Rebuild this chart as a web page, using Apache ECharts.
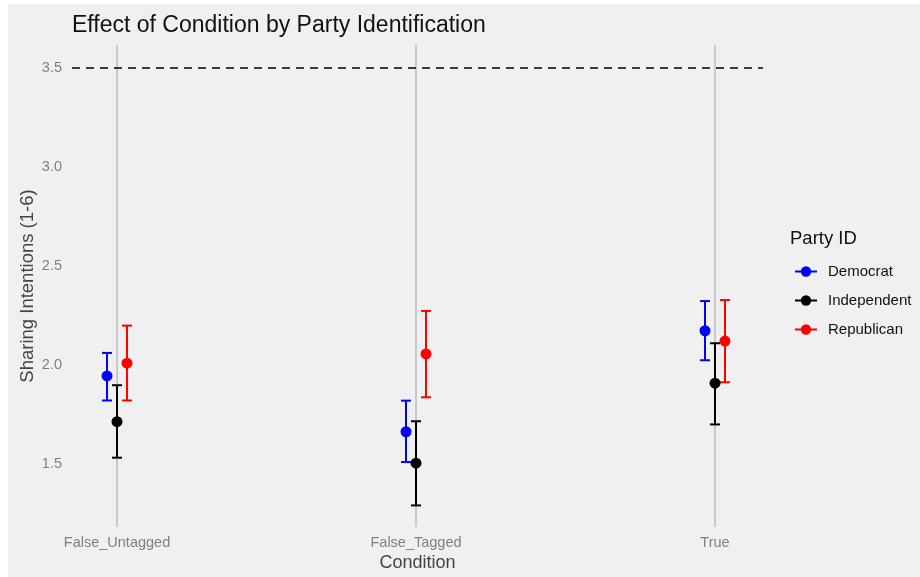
<!DOCTYPE html>
<html>
<head>
<meta charset="utf-8">
<script src="https://cdn.jsdelivr.net/npm/echarts@6/dist/echarts.min.js"></script>
<style>
html,body{margin:0;padding:0;background:#fff;}
#wrap{position:absolute;left:8px;top:4px;width:912px;height:573px;background:#f0f0f0;}
#chart{position:absolute;left:-8px;top:-4px;width:920px;height:577px;}
</style>
</head>
<body>
<div id="wrap"><div id="chart"></div></div>
<script>
var categories = ['False_Untagged', 'False_Tagged', 'True'];
var parties = ['Democrat', 'Independent', 'Republican'];
var partyColors = ['#0000ff', '#000000', '#ff0000'];
var demMean = [1.945, 1.663, 2.173];
var demLow  = [1.821, 1.510, 2.024];
var demHigh = [2.061, 1.820, 2.323];
var indMean = [1.714, 1.504, 1.908];
var indLow  = [1.532, 1.291, 1.700];
var indHigh = [1.898, 1.716, 2.110];
var repMean = [2.009, 2.056, 2.121];
var repLow  = [1.821, 1.837, 1.913];
var repHigh = [2.199, 2.273, 2.328];
var refLine = 3.5;
var yTicks = [1.5, 2.0, 2.5, 3.0, 3.5];

var means = [demMean, indMean, repMean];
var lows = [demLow, indLow, repLow];
var highs = [demHigh, indHigh, repHigh];
var dodge = [-0.0334, 0, 0.0334];
var font = 'Liberation Sans, Arial, sans-serif';

var chart = echarts.init(document.getElementById('chart'), null, {renderer: 'canvas'});
var series = [];
series.push({
  type: 'line',
  name: 'grid',
  z: 1,
  data: [],
  markLine: {
    silent: true,
    z: 1,
    symbol: 'none',
    label: {show: false},
    lineStyle: {color: '#bdbdbd', type: 'solid', width: 1.5},
    data: categories.map(function (c, j) { return {xAxis: j + 1}; })
  }
});
parties.forEach(function (p, i) {
  var errData = categories.map(function (c, j) {
    return [j + 1 + dodge[i], lows[i][j], highs[i][j]];
  });
  series.push({
    type: 'custom',
    name: p + ' CI',
    silent: true,
    z: 10,
    data: errData,
    encode: {x: 0, y: [1, 2]},
    renderItem: function (params, api) {
      var x = api.value(0);
      var lo = api.coord([x, api.value(1)]);
      var hi = api.coord([x, api.value(2)]);
      var hw = 5;
      var st = {stroke: partyColors[i], lineWidth: 2};
      return {
        type: 'group',
        children: [
          {type: 'line', shape: {x1: lo[0], y1: lo[1], x2: hi[0], y2: hi[1]}, style: st},
          {type: 'line', shape: {x1: lo[0] - hw, y1: lo[1], x2: lo[0] + hw, y2: lo[1]}, style: st},
          {type: 'line', shape: {x1: hi[0] - hw, y1: hi[1], x2: hi[0] + hw, y2: hi[1]}, style: st}
        ]
      };
    }
  });
  series.push({
    type: 'line',
    name: p,
    z: 11,
    symbol: 'circle',
    symbolSize: 11,
    showSymbol: true,
    color: partyColors[i],
    itemStyle: {color: partyColors[i]},
    lineStyle: {opacity: 0, width: 0, color: partyColors[i]},
    data: categories.map(function (c, j) { return [j + 1 + dodge[i], means[i][j]]; }),
    markLine: i === 0 ? {
      silent: true,
      z: 2,
      symbol: 'none',
      label: {show: false},
      lineStyle: {color: '#000', type: [8, 6], width: 1.5},
      data: [
        {yAxis: refLine}
      ]
    } : undefined
  });
});

chart.setOption({
  backgroundColor: 'transparent',
  animation: false,
  title: {
    text: 'Effect of Condition by Party Identification',
    left: 67, top: 9,
    textStyle: {fontFamily: font, fontSize: 23, fontWeight: 'normal', color: '#111'}
  },
  grid: {left: 72, right: 157, top: 45, bottom: 50, containLabel: false},
  legend: {
    data: parties,
    orient: 'vertical',
    left: 789, top: 259,
    itemWidth: 22, itemHeight: 13, itemGap: 14,
    lineStyle: {opacity: 1, width: 2},
    textStyle: {fontFamily: font, fontSize: 15, color: '#111', padding: [0, 0, 0, 6]},
    selectedMode: false
  },
  graphic: [{
    type: 'text', left: 790, top: 229,
    style: {text: 'Party ID', fontFamily: font, fontSize: 18.5, fill: '#111'}
  }],
  xAxis: {
    type: 'value',
    min: 0.8495, max: 3.1605,
    name: 'Condition', nameLocation: 'middle', nameGap: 27,
    nameMoveOverlap: false,
    nameTextStyle: {fontFamily: font, fontSize: 18, color: '#444'},
    axisLine: {show: false}, axisTick: {show: false},
    splitLine: {show: false},
    axisLabel: {
      customValues: [1, 2, 3],
      margin: 8,
      fontFamily: font, fontSize: 14.5, color: '#808080',
      formatter: function (v) { return categories[Math.round(v) - 1] || ''; }
    }
  },
  yAxis: {
    type: 'value',
    min: 1.182, max: 3.616,
    name: 'Sharing Intentions (1-6)', nameLocation: 'middle', nameGap: 35,
    nameMoveOverlap: false,
    nameTextStyle: {fontFamily: font, fontSize: 18.5, color: '#444'},
    axisLine: {show: false}, axisTick: {show: false},
    splitLine: {show: false},
    axisLabel: {
      customValues: yTicks,
      margin: 10,
      fontFamily: font, fontSize: 14.5, color: '#808080',
      formatter: function (v) { return v.toFixed(1); }
    }
  },
  series: series
});
</script>
</body>
</html>
